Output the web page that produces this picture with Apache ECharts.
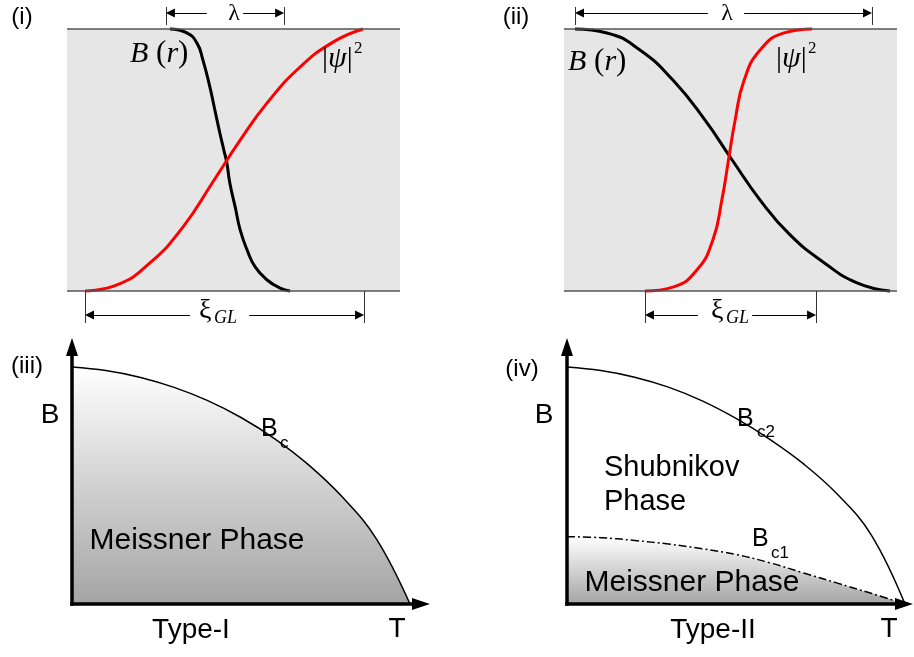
<!DOCTYPE html>
<html>
<head>
<meta charset="utf-8">
<script src="https://cdn.jsdelivr.net/npm/echarts@6/dist/echarts.min.js"></script>
<style>
  html, body { margin: 0; padding: 0; background: #fff; }
  #chart { width: 914px; height: 657px; }
</style>
</head>
<body>
<div id="chart"></div>
<script>
// ---- Boundary profiles: position r (0..10 across the slab) vs. normalised value ----
// Type-I: narrow field penetration, wide coherence length
const fieldTypeI  = [[3.09, 1], [3.60, 0.985], [3.90, 0.947], [4.08, 0.882], [4.29, 0.779], [4.44, 0.691],
                     [4.59, 0.603], [4.71, 0.538], [4.80, 0.489], [4.89, 0.412], [5.05, 0.321], [5.20, 0.233],
                     [5.41, 0.156], [5.65, 0.092], [6.01, 0.042], [6.40, 0.011], [6.70, 0]];
const orderTypeI  = [[0.54, 0], [1.50, 0.023], [2.49, 0.107], [3.48, 0.244], [4.38, 0.416], [5.20, 0.576],
                     [6.01, 0.718], [7.00, 0.855], [7.99, 0.950], [8.89, 1]];
// Type-II: wide field penetration, narrow coherence length
const fieldTypeII = [[0.33, 1], [1.29, 0.985], [2.28, 0.920], [3.27, 0.805], [4.23, 0.653], [5.05, 0.500],
                     [5.89, 0.347], [6.79, 0.214], [7.78, 0.111], [8.80, 0.031], [9.79, 0]];
const orderTypeII = [[2.43, 0], [3.27, 0.015], [3.99, 0.080], [4.47, 0.195], [4.74, 0.347], [4.94, 0.500],
                     [5.14, 0.653], [5.41, 0.805], [5.89, 0.920], [6.61, 0.985], [7.45, 1]];

// Length scales: [start, end, label gap start, label gap end] in r units
const lambdaTypeI  = [2.97, 6.52, 4.20, 5.29];
const xiTypeI      = [0.54, 8.92, 3.69, 5.47];
const lambdaTypeII = [0.33, 9.25, 4.32, 5.41];
const xiTypeII     = [2.43, 7.57, 4.02, 5.65];

// ---- Phase diagrams: T / Tc vs. B / B(0) ----
const tCritical   = [0, 0.1, 0.2, 0.3, 0.4, 0.5, 0.6, 0.7, 0.8, 0.9, 1];
const bcTypeI     = [1, 0.985, 0.957, 0.915, 0.859, 0.787, 0.697, 0.587, 0.451, 0.276, 0];
const bc2TypeII   = [1, 0.985, 0.957, 0.915, 0.857, 0.783, 0.695, 0.591, 0.463, 0.292, 0];
const tLower      = [0, 0.1, 0.2, 0.3, 0.4, 0.5, 0.6, 0.7, 0.8, 0.9, 1];
const bc1TypeII   = [0.284, 0.280, 0.268, 0.253, 0.233, 0.209, 0.174, 0.131, 0.088, 0.045, 0];

// ---- Layout ----
const SLAB_W = 333, SLAB_H = 262;
const slabs = [{ x: 67, y: 29 }, { x: 564, y: 29 }];
const U_MIN = -0.4, U_MAX = 10.4, V_MIN = -0.14, V_MAX = 1.1;
const LAMBDA_Y = 13, LAMBDA_TICK = [7, 25];   // px
const XI_Y = 315, XI_TICK = [291, 323];        // px
const ARROW = 9;

// axis end (in T/Tc) and arrow-head offset beyond it
const diagrams = [{ x: 72, y: 604, tMax: 1.006, headOffset: 9 }, { x: 567, y: 604, tMax: 1.0, headOffset: -1 }];
const T_SCALE = 338, B_SCALE = 237, B_MAX = 1.046;

const SANS = 'Liberation Sans, Arial, sans-serif';
const SERIF = 'Liberation Serif, Times New Roman, serif';

const chart = echarts.init(document.getElementById('chart'), null, { renderer: 'canvas' });

const grids = [], xAxes = [], yAxes = [], series = [];

function hiddenAxis(idx, min, max) {
  return { gridIndex: idx, type: 'value', min: min, max: max, show: false };
}

// profile panels
const profiles = [
  { field: fieldTypeI, order: orderTypeI, lambda: lambdaTypeI, xi: xiTypeI },
  { field: fieldTypeII, order: orderTypeII, lambda: lambdaTypeII, xi: xiTypeII }
];

profiles.forEach(function (p, k) {
  const s = slabs[k];
  grids.push({
    left: s.x + U_MIN * SLAB_W / 10,
    top: s.y + (1 - V_MAX) * SLAB_H,
    width: (U_MAX - U_MIN) * SLAB_W / 10,
    height: (V_MAX - V_MIN) * SLAB_H,
    outerBoundsMode: 'none'
  });
  xAxes.push(hiddenAxis(k, U_MIN, U_MAX));
  yAxes.push(hiddenAxis(k, V_MIN, V_MAX));

  const v = function (py) { return (s.y + SLAB_H - py) / SLAB_H; };
  const du = (ARROW / 2) / (SLAB_W / 10);
  const thin = { color: '#000', width: 1, type: 'solid' };
  const tick = { color: '#333', width: 1, type: 'solid' };
  const edge = { color: '#555', width: 1.5, type: 'solid' };

  function dimension(span, py, ticks) {
    const y = v(py);
    return [
      [{ coord: [span[2], y], symbol: 'none', lineStyle: thin },
       { coord: [span[0] + du, y], symbol: 'triangle', symbolSize: ARROW }],
      [{ coord: [span[3], y], symbol: 'none', lineStyle: thin },
       { coord: [span[1] - du, y], symbol: 'triangle', symbolSize: ARROW }],
      [{ coord: [span[0], v(ticks[0])], symbol: 'none', lineStyle: tick },
       { coord: [span[0], v(ticks[1])], symbol: 'none' }],
      [{ coord: [span[1], v(ticks[0])], symbol: 'none', lineStyle: tick },
       { coord: [span[1], v(ticks[1])], symbol: 'none' }]
    ];
  }

  const marks = [
    [{ coord: [0, 1], symbol: 'none', lineStyle: edge }, { coord: [10, 1], symbol: 'none' }],
    [{ coord: [0, 0], symbol: 'none', lineStyle: edge }, { coord: [10, 0], symbol: 'none' }]
  ].concat(dimension(p.lambda, LAMBDA_Y, LAMBDA_TICK), dimension(p.xi, XI_Y, XI_TICK));

  series.push({
    type: 'line', name: 'B(r)', xAxisIndex: k, yAxisIndex: k,
    data: p.field, smooth: 0.5, showSymbol: false, silent: true, z: 3,
    lineStyle: { color: '#000', width: 3 },
    markArea: {
      silent: true, itemStyle: { color: '#e6e6e6' },
      data: [[{ coord: [0, 0] }, { coord: [10, 1] }]]
    },
    markLine: {
      silent: true, animation: false, label: { show: false },
      symbol: ['none', 'none'], itemStyle: { color: '#000' },
      lineStyle: { type: 'solid' },
      emphasis: { disabled: true },
      data: marks
    }
  });
  series.push({
    type: 'line', name: '|ψ|²', xAxisIndex: k, yAxisIndex: k,
    data: p.order, smooth: 0.5, showSymbol: false, silent: true, z: 3,
    lineStyle: { color: '#ff0000', width: 3 }
  });
});

// phase-diagram panels
diagrams.forEach(function (d, j) {
  const k = j + 2;
  grids.push({
    left: d.x, top: d.y - B_MAX * B_SCALE,
    width: d.tMax * T_SCALE, height: B_MAX * B_SCALE,
    outerBoundsMode: 'none'
  });
  const axisLine = function (offset) {
    return {
      show: true, onZero: false,
      symbol: ['none', 'triangle'], symbolSize: [12, 18], symbolOffset: [0, offset],
      lineStyle: { color: '#000', width: 3.5, cap: 'square' }
    };
  };
  const base = {
    gridIndex: k, type: 'value', min: 0, z: 6,
    axisTick: { show: false }, axisLabel: { show: false }, splitLine: { show: false }
  };
  xAxes.push(Object.assign({}, base, { max: d.tMax, axisLine: axisLine(d.headOffset) }));
  yAxes.push(Object.assign({}, base, { max: B_MAX, axisLine: axisLine(9) }));
});

const shade = {
  type: 'linear', x: 0, y: 0, x2: 0, y2: 1,
  colorStops: [{ offset: 0, color: '#ffffff' }, { offset: 1, color: '#a4a4a4' }]
};
const pairs = function (xs, ys) { return xs.map(function (x, i) { return [x, ys[i]]; }); };

series.push({
  type: 'line', name: 'Bc', xAxisIndex: 2, yAxisIndex: 2, clip: false,
  data: pairs(tCritical, bcTypeI), smooth: 0.4, showSymbol: false, silent: true,
  lineStyle: { color: '#000', width: 1.5 }, areaStyle: { color: shade, opacity: 1 }, z: 1
});
series.push({
  type: 'line', name: 'Bc2', xAxisIndex: 3, yAxisIndex: 3, clip: false,
  data: pairs(tCritical, bc2TypeII), smooth: 0.4, showSymbol: false, silent: true,
  lineStyle: { color: '#000', width: 1.5 }, z: 1
});
series.push({
  type: 'line', name: 'Bc1', xAxisIndex: 3, yAxisIndex: 3, clip: false,
  data: pairs(tLower, bc1TypeII), smooth: 0.4, showSymbol: false, silent: true,
  lineStyle: { color: '#000', width: 1.5, type: [8, 3, 2, 3] }, areaStyle: { color: shade, opacity: 1 }, z: 1
});

// ---- Text ----
function text(x, y, str, size, extra) {
  return {
    type: 'text', x: x, y: y, silent: true, z: 10,
    style: Object.assign({
      text: str, fontSize: size, fontFamily: SANS, fill: '#000',
      align: 'center', verticalAlign: 'middle'
    }, extra || {})
  };
}
const serifIt = { fontFamily: SERIF, fontStyle: 'italic' };
const left = { align: 'left' };
const bOfR = {
  align: 'left',
  rich: { i: Object.assign({ fontSize: 30 }, serifIt), p: { fontSize: 31, fontFamily: SERIF } }
};
const psi = { align: 'left', fontFamily: SERIF, rich: { i: Object.assign({ fontSize: 30 }, serifIt) } };

const labels = [
  text(22, 17, '(i)', 24), text(516, 17, '(ii)', 24),
  text(27, 366, '(iii)', 24), text(522, 369, '(iv)', 24),

  // profile labels
  text(130, 54, '{i|B}{p| (}{i|r}{p|)}', 30, bOfR),
  text(568, 62, '{i|B}{p| (}{i|r}{p|)}', 30, bOfR),
  text(322, 59, '|{i|ψ}|', 30, psi),
  text(354, 49, '2', 17, { align: 'left', fontFamily: SERIF }),
  text(776, 59, '|{i|ψ}|', 30, psi),
  text(808, 49, '2', 17, { align: 'left', fontFamily: SERIF }),

  text(234, 14, 'λ', 24, { fontFamily: SERIF }),
  text(727, 14, 'λ', 24, { fontFamily: SERIF }),
  text(199, 311, 'ξ', 28, { align: 'left', fontFamily: SERIF }),
  text(214, 318, 'GL', 18, Object.assign({ align: 'left' }, serifIt)),
  text(711, 311, 'ξ', 28, { align: 'left', fontFamily: SERIF }),
  text(726, 318, 'GL', 18, Object.assign({ align: 'left' }, serifIt)),

  // phase-diagram labels
  text(50, 415, 'B', 28), text(544, 415, 'B', 28),
  text(397, 629, 'T', 28), text(889, 629, 'T', 28),
  text(191, 630, 'Type-I', 28), text(713, 630, 'Type-II', 28),
  text(261, 429, 'B', 25, left), text(280, 443, 'c', 17, left),
  text(737, 419, 'B', 25, left), text(757, 432, 'c2', 17, left),
  text(752, 539, 'B', 25, left), text(771, 553, 'c1', 17, left),
  text(197, 541, 'Meissner Phase', 30),
  text(692, 583, 'Meissner Phase', 30),
  text(604, 468, 'Shubnikov', 29, left),
  text(604, 502, 'Phase', 29, left)
];

chart.setOption({
  animation: false,
  backgroundColor: '#ffffff',
  grid: grids,
  xAxis: xAxes,
  yAxis: yAxes,
  series: series,
  graphic: { elements: labels }
});
</script>
</body>
</html>
